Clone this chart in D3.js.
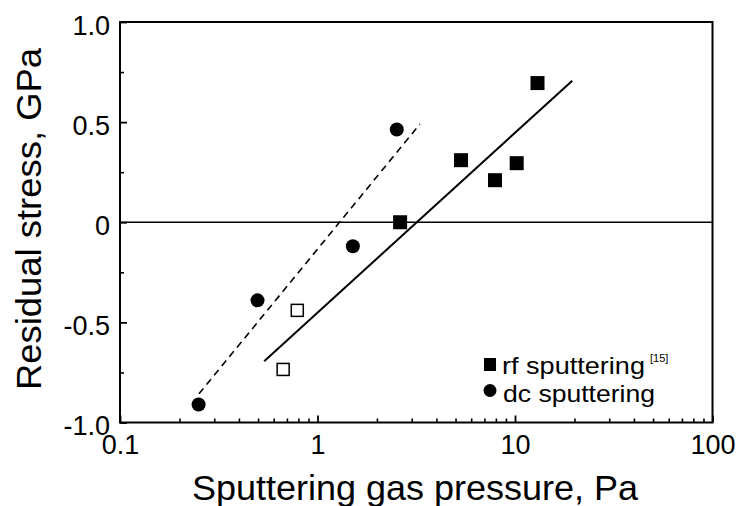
<!DOCTYPE html>
<html>
<head>
<meta charset="utf-8">
<script src="https://cdn.jsdelivr.net/npm/d3@7"></script>
<style>
  html, body { margin: 0; padding: 0; background: #fff; }
  svg { display: block; font-family: "Liberation Sans", Arial, Helvetica, sans-serif; }
</style>
</head>
<body>
<svg id="chart" width="739" height="506"></svg>
<script>
// ---- data ----
const rfFilledX = [2.62, 5.33, 7.92, 10.2, 13.0];
const rfFilledY = [0.0, 0.31, 0.21, 0.295, 0.695];
const rfOpenX = [0.79, 0.67];
const rfOpenY = [-0.44, -0.735];
const dcX = [0.25, 0.497, 1.51, 2.52];
const dcY = [-0.91, -0.39, -0.12, 0.463];
const rfFitX = [0.537, 19.5];
const rfFitY = [-0.694, 0.707];
const dcFitX = [0.251, 3.30];
const dcFitY = [-0.857, 0.49];
const xMajorTicks = [0.1, 1, 10, 100];
const xTickLabels = ["0.1", "1", "10", "100"];
const yMajorTicks = [-1.0, -0.5, 0, 0.5, 1.0];
const yTickLabels = ["-1.0", "-0.5", "0", "0.5", "1.0"];
const yMinorTicks = [-0.75, -0.25, 0.25, 0.75];
const legendLabels = ["rf sputtering", "dc sputtering"];
const legendRef = "[15]";
const xTitle = "Sputtering gas pressure, Pa";
const yTitle = "Residual stress, GPa";

// ---- layout ----
const svg = d3.select("#chart");
const L = 120, R = 712.5, T = 22, B = 422.5;
const x = d3.scaleLog().domain([0.1, 100]).range([L, R]);
const y = d3.scaleLinear().domain([-1, 1]).range([B, T]);

const xMinorTicks = [];
for (let d = 0.1; d < 100; d *= 10) for (let k = 2; k <= 9; k++) xMinorTicks.push(+(d * k).toPrecision(3));

// minor ticks
svg.append("g").attr("transform", `translate(0,${B})`)
  .call(d3.axisBottom(x).tickValues(xMinorTicks).tickSize(-4).tickFormat(""))
  .call(g => g.select(".domain").remove())
  .call(g => g.selectAll("line").attr("stroke", "#000").attr("stroke-width", 1.6));
svg.append("g").attr("transform", `translate(${L},0)`)
  .call(d3.axisLeft(y).tickValues(yMinorTicks).tickSize(-4).tickFormat(""))
  .call(g => g.select(".domain").remove())
  .call(g => g.selectAll("line").attr("stroke", "#000").attr("stroke-width", 1.6));

// major ticks + labels
const xAxis = svg.append("g").attr("transform", `translate(0,${B})`)
  .call(d3.axisBottom(x).tickValues(xMajorTicks).tickSize(-7).tickPadding(12)
    .tickFormat((d, i) => xTickLabels[i]))
  .call(g => g.select(".domain").remove())
  .call(g => g.selectAll("line").attr("stroke", "#000").attr("stroke-width", 1.8));
xAxis.selectAll("text").attr("font-size", 27).attr("fill", "#000")
  .attr("font-family", "Liberation Sans, Arial, sans-serif");

const yAxis = svg.append("g").attr("transform", `translate(${L},0)`)
  .call(d3.axisLeft(y).tickValues(yMajorTicks).tickSize(-7).tickPadding(10)
    .tickFormat((d, i) => yTickLabels[i]))
  .call(g => g.select(".domain").remove())
  .call(g => g.selectAll("line").attr("stroke", "#000").attr("stroke-width", 1.8));
yAxis.selectAll("text").attr("font-size", 27).attr("fill", "#000").attr("dy", "0.45em")
  .attr("font-family", "Liberation Sans, Arial, sans-serif");

// frame
svg.append("rect").attr("x", L).attr("y", T).attr("width", R - L).attr("height", B - T)
  .attr("fill", "none").attr("stroke", "#000").attr("stroke-width", 2);

// zero line
svg.append("line").attr("x1", L).attr("x2", R).attr("y1", y(0)).attr("y2", y(0))
  .attr("stroke", "#000").attr("stroke-width", 1.6);

// fit lines
const line = d3.line().x(d => x(d[0])).y(d => y(d[1]));
svg.append("path").datum(rfFitX.map((v, i) => [v, rfFitY[i]]))
  .attr("d", line).attr("fill", "none").attr("stroke", "#000").attr("stroke-width", 2);
svg.append("path").datum(dcFitX.map((v, i) => [v, dcFitY[i]]))
  .attr("d", line).attr("fill", "none").attr("stroke", "#000").attr("stroke-width", 1.6)
  .attr("stroke-dasharray", "7,5");

// markers
const sq = 14;
svg.append("g").selectAll("rect").data(rfFilledX.map((v, i) => [v, rfFilledY[i]])).join("rect")
  .attr("x", d => x(d[0]) - sq / 2).attr("y", d => y(d[1]) - sq / 2)
  .attr("width", sq).attr("height", sq).attr("fill", "#000");
const osq = 12;
svg.append("g").selectAll("rect").data(rfOpenX.map((v, i) => [v, rfOpenY[i]])).join("rect")
  .attr("x", d => x(d[0]) - osq / 2).attr("y", d => y(d[1]) - osq / 2)
  .attr("width", osq).attr("height", osq).attr("fill", "#fff").attr("stroke", "#000").attr("stroke-width", 1.5);
svg.append("g").selectAll("circle").data(dcX.map((v, i) => [v, dcY[i]])).join("circle")
  .attr("cx", d => x(d[0])).attr("cy", d => y(d[1])).attr("r", 7).attr("fill", "#000");

// legend
svg.append("rect").attr("x", 484).attr("y", 358).attr("width", 12).attr("height", 13).attr("fill", "#000");
svg.append("circle").attr("cx", 490).attr("cy", 390.5).attr("r", 6.5).attr("fill", "#000");
svg.append("text").attr("x", 502).attr("y", 373.5).attr("font-size", 24).attr("fill", "#000")
  .attr("textLength", 143).attr("lengthAdjust", "spacingAndGlyphs")
  .text(legendLabels[0]);
svg.append("text").attr("x", 650).attr("y", 362).attr("font-size", 11).attr("fill", "#000")
  .text(legendRef);
svg.append("text").attr("x", 503).attr("y", 401.5).attr("font-size", 24).attr("fill", "#000")
  .attr("textLength", 152).attr("lengthAdjust", "spacingAndGlyphs")
  .text(legendLabels[1]);

// axis titles
svg.append("text").attr("x", 415).attr("y", 500).attr("text-anchor", "middle")
  .attr("font-size", 35).attr("fill", "#000")
  .attr("textLength", 446).attr("lengthAdjust", "spacingAndGlyphs").text(xTitle);
svg.append("text").attr("transform", "translate(40.5,219) rotate(-90)").attr("text-anchor", "middle")
  .attr("font-size", 35).attr("fill", "#000")
  .attr("textLength", 342).attr("lengthAdjust", "spacingAndGlyphs").text(yTitle);
</script>
</body>
</html>
